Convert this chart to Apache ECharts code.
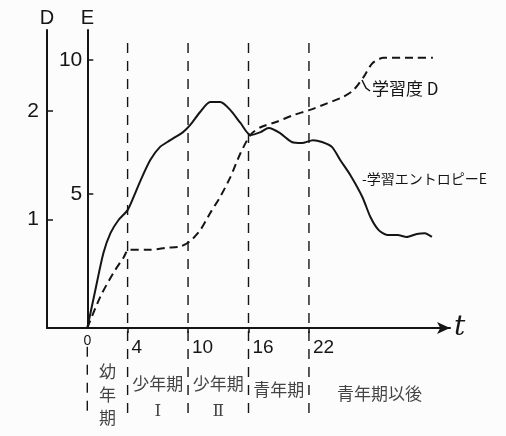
<!DOCTYPE html>
<html><head><meta charset="utf-8">
<script src="https://cdn.jsdelivr.net/npm/echarts@6/dist/echarts.min.js"></script>
<style>html,body{margin:0;padding:0;background:#fcfcfc}#c{width:506px;height:436px}</style>
</head><body><div id="c"></div>
<script>
// Learning entropy E (solid)
const tE = [0,0.8,1.6,2.3,3.1,4.0,4.6,5.3,6.25,7.2,8.2,9.5,10.2,11.2,12.2,13.2,14.2,15.2,16.2,17.2,18.0,19.1,20.3,21.3,22.4,23.3,24.3,25.1,26.1,27.3,28.1,28.9,29.8,30.8,31.7,32.7,33.5,34.2];
const entropyE = [0,1.42,2.8,3.54,4.03,4.4,4.89,5.52,6.27,6.75,7.0,7.31,7.57,8.06,8.43,8.43,8.13,7.65,7.2,7.31,7.46,7.28,6.94,6.9,7.01,6.94,6.75,6.27,5.71,4.89,4.14,3.66,3.47,3.47,3.40,3.51,3.54,3.40];
// Degree of learning D (dashed)
const tD = [0,1.3,2.6,3.6,4.1,6.25,7.9,9.2,10.2,11.2,12.2,13.2,14.2,15.2,16.2,17.2,18.8,20.4,22.1,23.8,25.4,26.4,27.4,28.3,29.4,31.1,32.7,34.3];
const learnD = [0,0.29,0.51,0.65,0.72,0.72,0.74,0.75,0.80,0.90,1.06,1.21,1.39,1.61,1.78,1.85,1.90,1.96,2.01,2.07,2.13,2.19,2.31,2.44,2.49,2.49,2.49,2.49];
// Stages
const stageBounds = [4,10,16,22];
const stageCenters = [2,7,13,19,29];
const stageNames = ['幼\n年\n期','少年期\n{r|Ⅰ}','少年期\n{r|Ⅱ}','青年期','青年期以後'];
// Tick labels
const xTicks = [4,10,16,22];
const xOrigin = [0];
const eTicks = [5,10];
const dTicks = [1,2];

const INK = '#151515';
const NUM = 'Liberation Sans';
const JP = 'Noto Sans CJK JP';
const divTop = 10.8, divBottom = -3.17;
const stageY = [-2.5,-2.6,-2.6,-2.31,-2.43];

const series = [];
series.push({type:'line', xAxisIndex:0, yAxisIndex:0, data:tE.map((t,i)=>[t,entropyE[i]]),
  smooth:0.25, symbol:'none', lineStyle:{color:INK, width:2}, clip:false, silent:true, z:5});
series.push({type:'line', xAxisIndex:0, yAxisIndex:1, data:tD.map((t,i)=>[t,learnD[i]]),
  smooth:0.25, symbol:'none', lineStyle:{color:INK, width:2, type:[8,5]}, clip:false, silent:true, z:5});
stageBounds.forEach(b=>{
  series.push({type:'line', xAxisIndex:0, yAxisIndex:0, data:[[b,divBottom],[b,divTop]], symbol:'none',
    lineStyle:{color:INK, width:1.4, type:[10,8]}, clip:false, silent:true, z:3});
});
series.push({type:'line', xAxisIndex:0, yAxisIndex:0, data:[[0,-0.7],[0,divBottom]], symbol:'none',
  lineStyle:{color:INK, width:1.4, type:[10,8]}, clip:false, silent:true, z:3});
series.push({type:'scatter', xAxisIndex:0, yAxisIndex:0, symbol:'circle', symbolSize:2, itemStyle:{color:'rgba(0,0,0,0)'}, clip:false, silent:true,
  data:stageCenters.map((c,i)=>({value:[c,stageY[i]], label:{formatter:stageNames[i], lineHeight: i===0?23:28}})),
  label:{show:true, position:'inside', color:INK, fontFamily:JP, fontSize:17, align:'center', verticalAlign:'middle',
    rich:{r:{fontFamily:'DejaVu Serif', fontSize:17, color:INK, lineHeight:28}}}});

const chart = echarts.init(document.getElementById('c'), null, {renderer:'canvas'});
chart.setOption({
  backgroundColor:'#fcfcfc',
  animation:false,
  grid:{left:47, top:30, width:403, height:298, containLabel:false},
  xAxis:[
    {type:'value', min:-4, max:36, position:'bottom',
     axisLine:{show:true, onZero:false, lineStyle:{color:INK, width:2}, symbol:['none','arrow'], symbolSize:[9,13]},
     axisTick:{show:true, customValues:xTicks, length:5, lineStyle:{color:INK, width:1.5}},
     axisLabel:{customValues:xTicks, align:'left', margin:10, padding:[0,0,0,4], fontSize:19, color:INK, fontFamily:NUM},
     splitLine:{show:false},
     name:'t', nameLocation:'end', nameGap:4,
     nameTextStyle:{fontSize:28, fontStyle:'italic', fontFamily:'DejaVu Serif', color:INK, padding:[26,0,0,0]}},
    {type:'value', min:-4, max:36, position:'bottom',
     axisLine:{show:false, onZero:false}, axisTick:{show:false}, splitLine:{show:false},
     axisLabel:{customValues:xOrigin, margin:6, fontSize:14, color:INK, fontFamily:NUM}}
  ],
  yAxis:[
    {type:'value', min:0, max:11.12, position:'left', offset:-40.3,
     axisLine:{show:true, onZero:false, lineStyle:{color:INK, width:2}},
     axisTick:{show:true, customValues:eTicks, inside:true, length:6, lineStyle:{color:INK, width:1.5}},
     axisLabel:{customValues:eTicks, margin:5, fontSize:21, color:INK, fontFamily:NUM},
     splitLine:{show:false},
     name:'E', nameLocation:'end', nameGap:2, nameTextStyle:{fontSize:20, color:INK, fontFamily:NUM, align:'center'}},
    {type:'value', min:0, max:2.746, position:'left', offset:0,
     axisLine:{show:true, onZero:false, lineStyle:{color:INK, width:2}},
     axisTick:{show:true, customValues:dTicks, inside:true, length:6, lineStyle:{color:INK, width:1.5}},
     axisLabel:{customValues:dTicks, margin:8, fontSize:21, color:INK, fontFamily:NUM},
     splitLine:{show:false},
     name:'D', nameLocation:'end', nameGap:2, nameTextStyle:{fontSize:20, color:INK, fontFamily:NUM, align:'center'}}
  ],
  graphic:[
    {type:'polyline', shape:{points:[[362,80],[366,88],[370,91]]}, style:{stroke:INK, lineWidth:1.5, fill:null}},
    {type:'text', left:372, top:80, style:{text:'学習度 D', fontSize:17, fontFamily:JP, fill:INK}},
    {type:'text', left:362, top:172, style:{text:'-学習エントロピーE', fontSize:14, fontFamily:JP, fill:INK}}
  ],
  series: series
});
</script></body></html>
